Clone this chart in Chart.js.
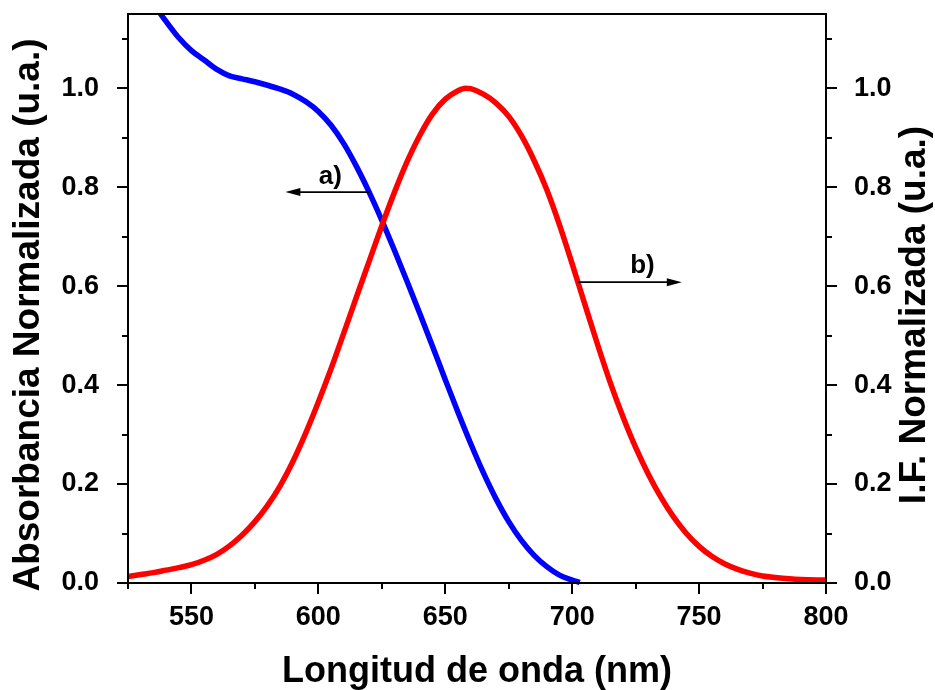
<!DOCTYPE html>
<html>
<head>
<meta charset="utf-8">
<script src="https://cdn.jsdelivr.net/npm/chart.js@4.4.0/dist/chart.umd.min.js"></script>
<style>
body { margin: 0; background: #fff; }
#wrap { width: 935px; height: 690px; position: relative; }
</style>
</head>
<body>
<div id="wrap"><canvas id="espectros"></canvas></div>
<script>
// a) absorbancia normalizada
var absWavelength = [525, 530, 535, 540, 545, 550, 555, 560, 565, 570, 575, 580, 585, 590, 595, 600,
  605, 610, 615, 620, 625, 630, 635, 640, 645, 650, 655, 660, 665, 670, 675, 680, 685, 690, 695, 700, 703];
var absValues = [1.24, 1.205, 1.17, 1.135, 1.102, 1.076, 1.057, 1.038, 1.025, 1.019, 1.013, 1.006, 0.998, 0.988, 0.973, 0.953,
  0.925, 0.888, 0.842, 0.79, 0.733, 0.672, 0.609, 0.544, 0.478, 0.411, 0.345, 0.282, 0.223, 0.17, 0.124, 0.086, 0.056, 0.033, 0.016, 0.006, 0.001];

// b) intensidad de fluorescencia normalizada
var ifWavelength = [525, 530, 535, 540, 545, 550, 555, 560, 565, 570, 575, 580, 585, 590, 595, 600,
  605, 610, 615, 620, 625, 630, 635, 640, 645, 650, 655, 658, 660, 665, 670, 675, 680, 685, 690, 695,
  700, 705, 710, 715, 720, 725, 730, 735, 740, 745, 750, 755, 760, 765, 770, 775, 780, 790, 800];
var ifValues = [0.013, 0.017, 0.021, 0.026, 0.031, 0.037, 0.046, 0.058, 0.075, 0.097, 0.124, 0.157, 0.197, 0.246, 0.303, 0.366,
  0.433, 0.505, 0.578, 0.65, 0.722, 0.79, 0.852, 0.905, 0.948, 0.978, 0.995, 1.0, 0.999, 0.988, 0.97, 0.943, 0.904, 0.854, 0.795, 0.724,
  0.645, 0.563, 0.482, 0.405, 0.336, 0.274, 0.22, 0.173, 0.133, 0.1, 0.074, 0.054, 0.039, 0.028, 0.02, 0.014, 0.011, 0.007, 0.006];

var xTickLabels = [550, 600, 650, 700, 750, 800];
var yTickLabels = ['0.0', '0.2', '0.4', '0.6', '0.8', '1.0'];

var fuente = '"Liberation Sans", Arial, sans-serif';

function puntos(xs, ys) {
  return xs.map(function (v, i) { return { x: v, y: ys[i] }; });
}

// flechas a) y b)
var flechas = [
  { texto: 'a)', eje: 'y', y: 0.79, desde: 620.4, hasta: 587, tx: 604.7, ty: 0.806 },
  { texto: 'b)', eje: 'y2', y: 0.608, desde: 702.3, hasta: 743.2, tx: 727.7, ty: 0.626 }
];

var marco = {
  id: 'marco',
  afterDraw: function (chart) {
    var ctx = chart.ctx, a = chart.chartArea;
    var sx = chart.scales.x;
    ctx.save();
    ctx.strokeStyle = '#000';
    ctx.fillStyle = '#000';
    ctx.lineWidth = 2;
    ctx.strokeRect(a.left, a.top, a.right - a.left, a.bottom - a.top);

    ctx.beginPath();
    sx.ticks.forEach(function (t) {
      var px = Math.round(sx.getPixelForValue(t.value));
      var len = t.value % 50 === 0 ? 11 : 6;
      ctx.moveTo(px, a.bottom); ctx.lineTo(px, a.bottom + len);
    });
    [chart.scales.y, chart.scales.y2].forEach(function (s) {
      s.ticks.forEach(function (t) {
        var py = Math.round(s.getPixelForValue(t.value));
        var len = Math.round(t.value * 10) % 2 === 0 ? 11 : 6;
        if (s.position === 'left') { ctx.moveTo(a.left, py); ctx.lineTo(a.left - len, py); }
        else { ctx.moveTo(a.right, py); ctx.lineTo(a.right + len, py); }
      });
    });
    ctx.stroke();

    // titulos de ejes
    ctx.textAlign = 'center';
    ctx.textBaseline = 'alphabetic';
    ctx.font = 'bold 36px ' + fuente;
    ctx.fillText('Longitud de onda (nm)', (a.left + a.right) / 2, 682);
    ctx.font = 'bold 37px ' + fuente;
    ctx.save();
    ctx.translate(39, 315);
    ctx.rotate(-Math.PI / 2);
    ctx.fillText('Absorbancia Normalizada (u.a.)', 0, 0);
    ctx.restore();
    ctx.save();
    ctx.translate(925, 315);
    ctx.rotate(-Math.PI / 2);
    ctx.fillText('I.F. Normalizada (u.a.)', 0, 0);
    ctx.restore();

    // flechas
    ctx.lineWidth = 1.6;
    ctx.font = 'bold 26px ' + fuente;
    flechas.forEach(function (f) {
      var s = chart.scales[f.eje];
      var y = s.getPixelForValue(f.y);
      var x0 = sx.getPixelForValue(f.desde), x1 = sx.getPixelForValue(f.hasta);
      var dir = x1 > x0 ? 1 : -1;
      ctx.beginPath();
      ctx.moveTo(x0, y); ctx.lineTo(x1 - dir * 10, y);
      ctx.stroke();
      ctx.beginPath();
      ctx.moveTo(x1, y);
      ctx.lineTo(x1 - dir * 15, y - 4);
      ctx.lineTo(x1 - dir * 15, y + 4);
      ctx.closePath();
      ctx.fill();
      ctx.fillText(f.texto, sx.getPixelForValue(f.tx), s.getPixelForValue(f.ty));
    });
    ctx.restore();
  }
};

var fuenteTicks = { family: fuente, size: 27, weight: 'bold' };

var ctx = document.getElementById('espectros').getContext('2d');
var grafico = new Chart(ctx, {
  type: 'line',
  data: {
    datasets: [{
      label: 'b) I.F.',
      data: puntos(ifWavelength, ifValues),
      borderColor: '#FF0000',
      borderWidth: 5.5,
      pointRadius: 0,
      cubicInterpolationMode: 'monotone',
      yAxisID: 'y2',
      order: 0,
      clip: { left: 0, top: 0, right: 0, bottom: 4 }
    }, {
      label: 'a) Absorbancia',
      data: puntos(absWavelength, absValues),
      borderColor: '#0000FF',
      borderWidth: 5.5,
      pointRadius: 0,
      cubicInterpolationMode: 'monotone',
      yAxisID: 'y',
      order: 1,
      clip: { left: 0, top: 0, right: 0, bottom: 4 }
    }]
  },
  options: {
    responsive: true,
    maintainAspectRatio: false,
    animation: false,
    layout: { padding: { top: 14, left: 0, right: 0, bottom: 0 } },
    plugins: { legend: { display: false }, tooltip: { enabled: false } },
    scales: {
      x: {
        type: 'linear',
        min: 525, max: 800,
        grid: { display: false },
        border: { display: false },
        ticks: {
          stepSize: 25,
          autoSkip: false,
          maxRotation: 0,
          padding: 10,
          color: '#000',
          font: fuenteTicks,
          callback: function (v) { return xTickLabels.indexOf(v) >= 0 ? String(v) : ''; }
        },
        afterFit: function (s) { s.height = 107; s.paddingLeft = 0; s.paddingRight = 0; }
      },
      y: {
        position: 'left',
        min: 0, max: 1.15,
        grid: { display: false },
        border: { display: false },
        ticks: {
          stepSize: 0.1,
          includeBounds: false,
          autoSkip: false,
          padding: 21,
          color: '#000',
          font: fuenteTicks,
          callback: function (v) { var t = v.toFixed(1); return yTickLabels.indexOf(t) >= 0 ? t : ''; }
        },
        afterFit: function (s) { s.width = 128; s.paddingTop = 0; s.paddingBottom = 0; }
      },
      y2: {
        position: 'right',
        min: 0, max: 1.15,
        grid: { display: false },
        border: { display: false },
        ticks: {
          stepSize: 0.1,
          includeBounds: false,
          autoSkip: false,
          padding: 20,
          color: '#000',
          font: fuenteTicks,
          callback: function (v) { var t = v.toFixed(1); return yTickLabels.indexOf(t) >= 0 ? t : ''; }
        },
        afterFit: function (s) { s.width = 109; s.paddingTop = 0; s.paddingBottom = 0; }
      }
    }
  },
  plugins: [marco]
});
</script>
</body>
</html>
